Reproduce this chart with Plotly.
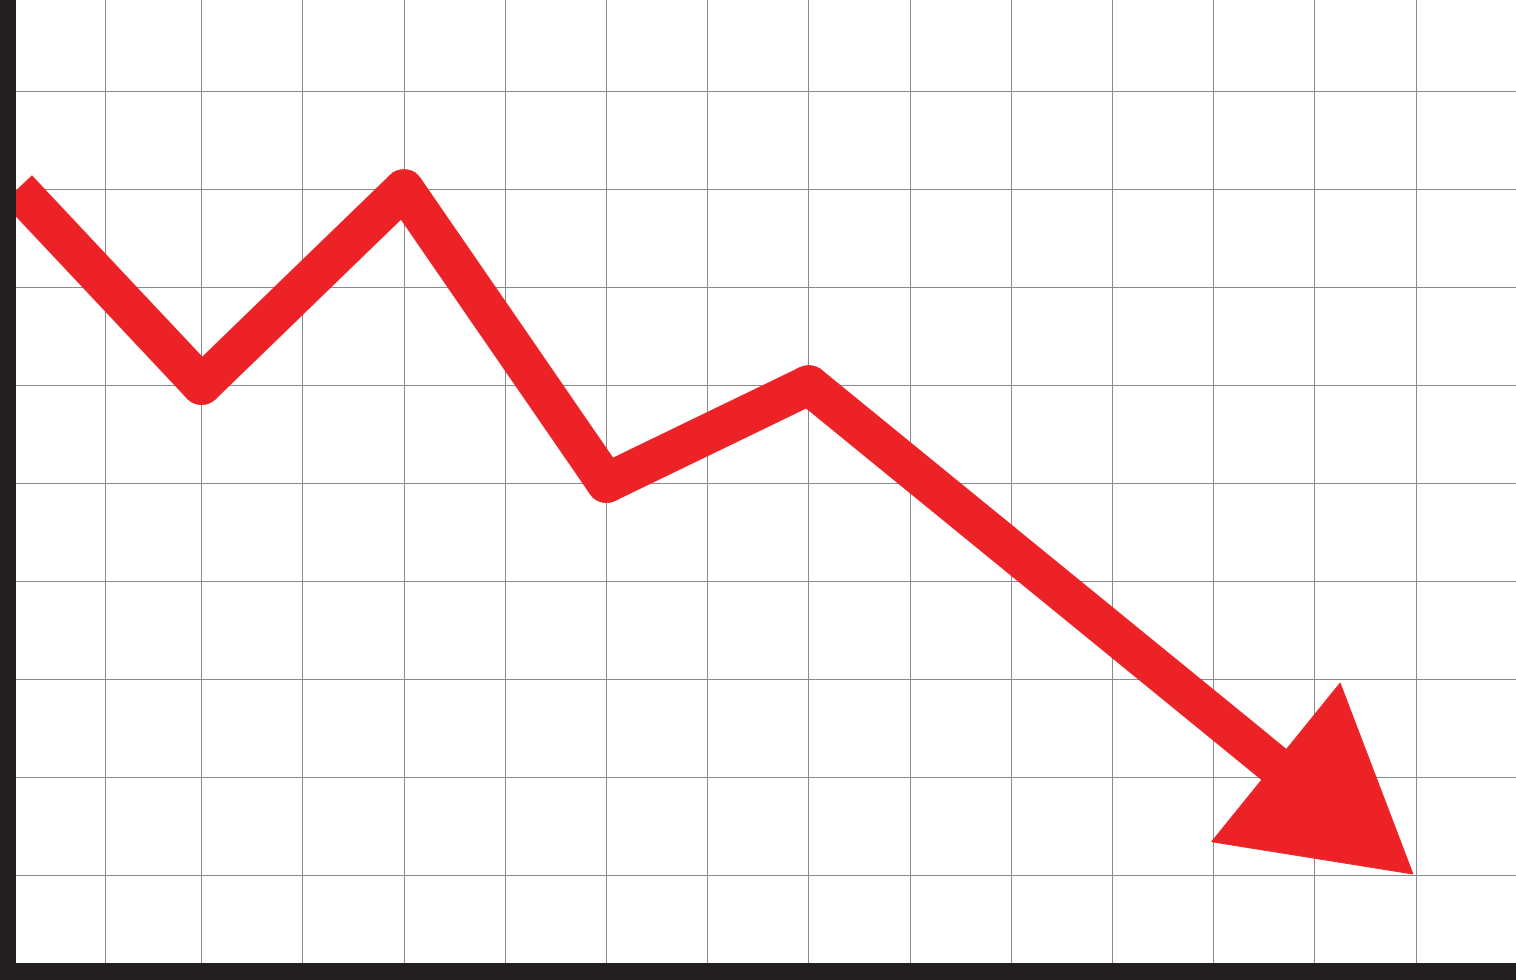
import plotly.graph_objects as go

# 하락 추세 화살표 차트 (격자 단위 좌표)
trend_x = [0.18, 2, 4, 6, 8, 12.95]
trend_y = [8.0, 6.0, 8.0, 5.0, 6.0, 1.83]

head_x = [13.25, 13.97, 11.98]
head_y = [2.96, 1.01, 1.34]

grid_x = [1.05, 2, 3, 4, 5, 6, 7, 8, 9, 10, 11, 12, 13, 14]
grid_y = [1, 2, 3, 4, 5, 6, 7, 8, 9]

RED = "#ec2227"
DARK = "#231f20"

# 구간별로 나눠서 그려야 꺾이는 곳이 뾰족하지 않고 둥글게 됨
seg_x, seg_y = [], []
for i in range(len(trend_x) - 1):
    seg_x += [trend_x[i], trend_x[i + 1], None]
    seg_y += [trend_y[i], trend_y[i + 1], None]

fig = go.Figure()

fig.add_trace(go.Scatter(
    x=seg_x, y=seg_y,
    mode="lines",
    line=dict(color=RED, width=40),
    connectgaps=False,
    hoverinfo="skip",
))
fig.add_trace(go.Scatter(
    x=trend_x[1:-1], y=trend_y[1:-1],
    mode="markers",
    marker=dict(color=RED, size=40, line=dict(width=0)),
    hoverinfo="skip",
))

# 화살촉
fig.add_trace(go.Scatter(
    x=head_x + head_x[:1], y=head_y + head_y[:1],
    mode="lines",
    fill="toself",
    fillcolor=RED,
    line=dict(color=RED, width=1),
    hoverinfo="skip",
))

fig.update_layout(
    width=1516,
    height=980,
    margin=dict(l=0, r=0, t=0, b=0),
    plot_bgcolor="white",
    paper_bgcolor="white",
    showlegend=False,
    xaxis=dict(
        range=[0.0079, 14.988],
        tickvals=grid_x,
        showticklabels=False,
        showgrid=True,
        gridcolor="#8a8a8a",
        gridwidth=1,
        zeroline=False,
        fixedrange=True,
    ),
    yaxis=dict(
        range=[-0.0714, 9.929],
        tickvals=grid_y,
        showticklabels=False,
        showgrid=True,
        gridcolor="#8a8a8a",
        gridwidth=1,
        zeroline=False,
        fixedrange=True,
    ),
    shapes=[
        # 왼쪽 축
        dict(type="rect", xref="paper", yref="paper",
             x0=0, x1=16 / 1516, y0=0, y1=1,
             fillcolor=DARK, line=dict(width=0), layer="above"),
        # 아래쪽 축
        dict(type="rect", xref="paper", yref="paper",
             x0=0, x1=1, y0=0, y1=17 / 980,
             fillcolor=DARK, line=dict(width=0), layer="above"),
    ],
)

fig.write_html(
    "out.html",
    config={"displayModeBar": False},
    post_script="document.body.style.margin='0';",
)
